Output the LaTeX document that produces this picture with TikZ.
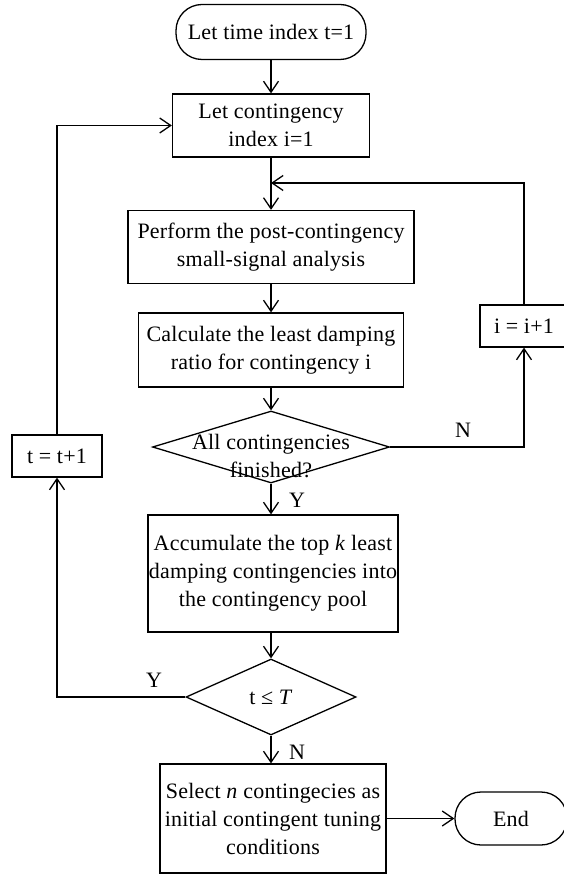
\documentclass[tikz,border=0pt]{standalone}
\usepackage{fontspec}
\setmainfont{Liberation Serif}[LetterSpace=1]
\usetikzlibrary{arrows.meta,shapes.geometric}

\tikzset{
  base/.style={draw, line width=1.3pt, align=center, inner xsep=0pt, inner ysep=2pt, font=\fontsize{22}{28}\selectfont},
  proc/.style={base, rectangle},
  term/.style={base, rectangle, rounded corners=26pt},
  decis/.style={base, diamond, inner sep=0pt},
  lbl/.style={font=\fontsize{22}{28}\selectfont, align=center},
  flow/.style={line width=1.3pt, -{Straight Barb[length=11pt,width=15pt,line width=1.3pt]}},
}

\begin{document}
\begin{tikzpicture}[x=1pt,y=-1pt]
        \useasboundingbox (0,0) rectangle (563,874);

        \node[term, minimum width=190pt, minimum height=55pt] (start) at (271,32) {Let time index t=1};
        \node[proc, minimum width=197pt, minimum height=63pt] (init) at (271,125.5) {Let contingency\\index i=1};
        \coordinate (merge) at (271,183);
        \node[proc, minimum width=286pt, minimum height=73pt] (ssa) at (271,247) {Perform the post-contingency\\small-signal analysis};
        \node[proc, minimum width=265pt, minimum height=74pt] (ratio) at (271,350) {Calculate the least damping\\ratio for contingency i};
        \node[decis, minimum width=237pt, minimum height=72pt, label={[lbl,yshift=-9pt]center:All contingencies\\finished?}] (alldone) at (271,447) {};
        \node[proc, minimum width=250pt, minimum height=117pt] (pool) at (273,573.5) {Accumulate the top \textit{k} least\\damping contingencies into\\the contingency pool};
        \node[decis, minimum width=170pt, minimum height=76pt, label={[lbl]center:t ≤ \textit{T}}] (tcheck) at (271,697) {};
        \node[proc, minimum width=226pt, minimum height=109pt] (select) at (273,818.5) {Select \textit{n} contingecies as\\initial contingent tuning\\conditions};
        \node[term, minimum width=112pt, minimum height=53pt] (finish) at (511,818.5) {End};

        \node[proc, minimum width=88pt, minimum height=42pt] (nexti) at (524,326) {i = i+1};
        \node[proc, minimum width=90pt, minimum height=42pt] (nextt) at (57,456) {t = t+1};

        \draw[flow] (start) -- (init);
        \draw[flow] (init) -- (ssa);
        \draw[flow] (ssa) -- (ratio);
        \draw[flow] (ratio) -- (alldone);
        \draw[flow] (alldone.south) -- (pool.north -| alldone.south);
        \draw[flow] (pool.south -| tcheck.north) -- (tcheck.north);
        \draw[flow] (tcheck.south) -- (select.north -| tcheck.south);
        \draw[flow] (select) -- (finish);

        \draw[flow] (alldone.east) -| (nexti.south);
        \draw[flow] (nexti.north) |- (merge);
        \draw[flow] (tcheck.west) -| (nextt.south);
        \draw[flow] (nextt.north) |- (init.west);

        \node[lbl] (nlbl1) at (463,430) {N};
        \node[lbl] (ylbl1) at (297,500) {Y};
        \node[lbl] (ylbl2) at (154,680) {Y};
        \node[lbl] (nlbl2) at (297,752) {N};
    \end{tikzpicture}
\end{document}
